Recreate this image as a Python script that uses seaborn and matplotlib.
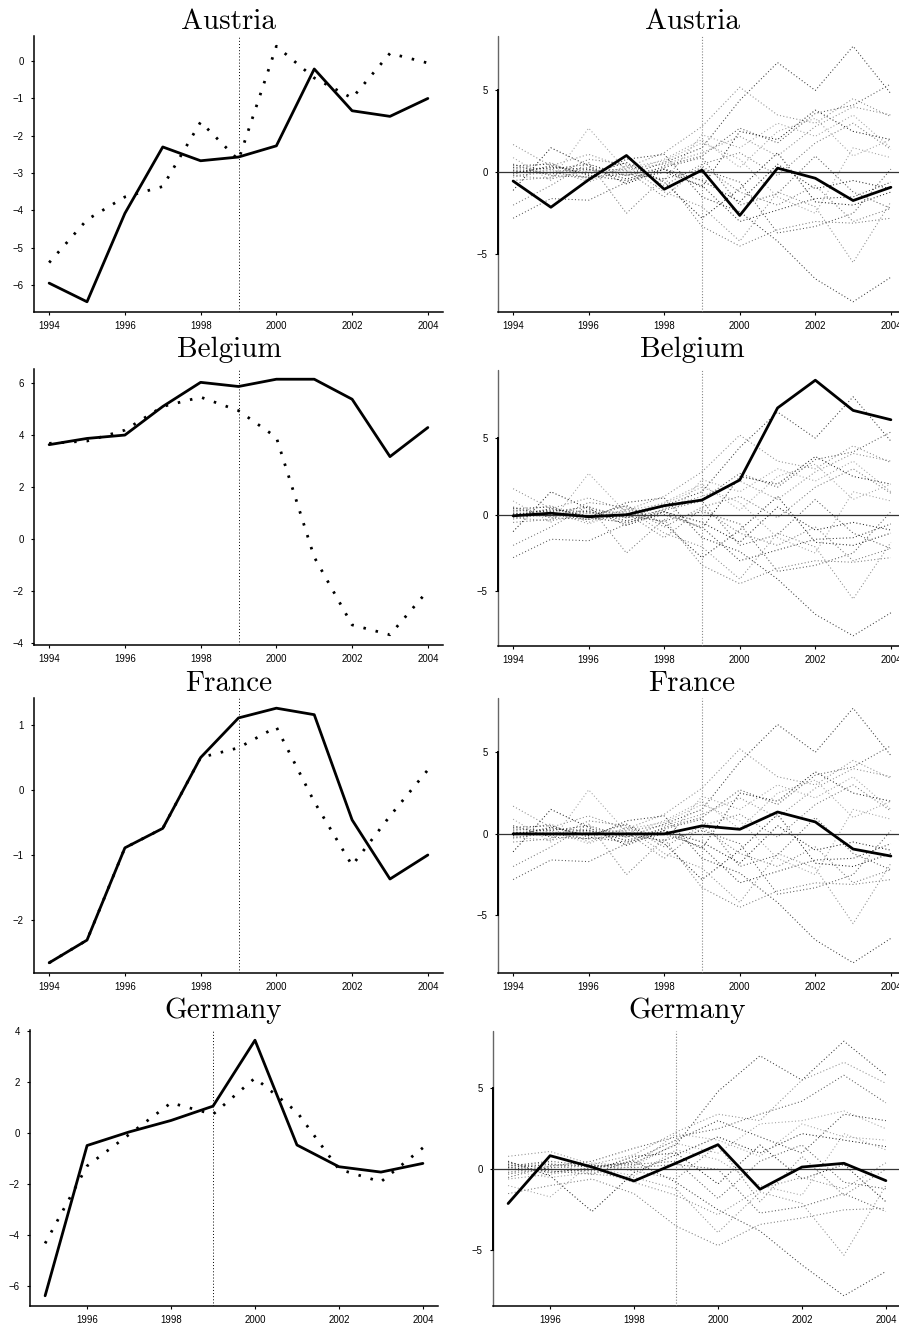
import matplotlib
matplotlib.use("Agg")
import matplotlib.pyplot as plt
import numpy as np
import pandas as pd
import seaborn as sns
from matplotlib.ticker import MultipleLocator

# ---------------- data ----------------
years = [1994, 1995, 1996, 1997, 1998, 1999, 2000, 2001, 2002, 2003, 2004]
years_de = [1995, 1996, 1997, 1998, 1999, 2000, 2001, 2002, 2003, 2004]
treat_year = 1999
countries = ["Austria", "Belgium", "France", "Germany"]

austria_actual = [-5.95, -6.45, -4.08, -2.30, -2.67, -2.57, -2.27, -0.21, -1.33, -1.48, -1.00]
austria_synth = [-5.40, -4.25, -3.64, -3.36, -1.63, -2.65, 0.40, -0.45, -0.99, 0.21, -0.05]
belgium_actual = [3.63, 3.87, 4.00, 5.10, 6.03, 5.87, 6.15, 6.15, 5.38, 3.17, 4.29]
belgium_synth = [3.68, 3.77, 4.19, 5.10, 5.46, 4.94, 3.91, -0.70, -3.31, -3.69, -1.99]
france_actual = [-2.66, -2.31, -0.89, -0.59, 0.50, 1.11, 1.26, 1.16, -0.46, -1.37, -1.00]
france_synth = [-2.66, -2.31, -0.89, -0.59, 0.50, 0.65, 0.97, -0.18, -1.16, -0.40, 0.31]
germany_actual = [-6.38, -0.50, 0.03, 0.48, 1.04, 3.62, -0.48, -1.33, -1.54, -1.20]
germany_synth = [-4.33, -1.30, -0.07, 1.17, 0.72, 2.14, 0.81, -1.43, -1.92, -0.59]

austria_gap = [-0.53, -2.13, -0.45, 1.03, -1.03, 0.14, -2.63, 0.26, -0.36, -1.72, -0.91]
belgium_gap = [-0.07, 0.10, -0.13, 0.00, 0.59, 0.96, 2.27, 6.97, 8.78, 6.81, 6.20]
france_gap = [0.00, 0.00, 0.00, 0.00, 0.00, 0.49, 0.28, 1.34, 0.73, -0.93, -1.36]
germany_gap = [-2.11, 0.84, 0.14, -0.72, 0.38, 1.52, -1.23, 0.14, 0.37, -0.70]

# placebo gaps (other countries), 1994-2004
placebo_gaps_main = [
    [0.3, 0.2, 0.5, -0.2, 0.6, 1.5, 4.4, 6.7, 5.0, 7.7, 4.8],
    [1.7, 0.4, 1.1, 0.3, 1.2, 2.8, 5.2, 3.5, 3.0, 4.5, 3.4],
    [-2.8, -1.6, -1.7, -0.6, 0.4, 1.0, 2.7, 1.8, 3.6, 4.1, 5.4],
    [0.9, -0.5, 2.7, 0.1, -0.5, 2.3, 1.5, 3.0, 2.2, 3.5, 1.5],
    [-1.1, 1.5, 0.4, -0.7, 0.2, -0.9, 2.5, 2.0, 3.8, 2.5, 2.0],
    [-2.0, -0.8, 0.6, -2.5, -0.3, -3.3, -4.5, -3.5, -3.0, -3.1, -2.8],
    [0.5, -0.2, -0.3, 0.8, 1.1, -1.5, -2.4, -4.2, -6.5, -7.9, -6.4],
    [0.2, 0.6, -0.5, 0.4, -1.2, -2.1, -4.2, -1.2, -2.1, -5.5, -1.8],
    [0.1, -0.1, 0.2, -0.2, 0.3, 0.9, -2.0, -1.3, 1.0, -1.2, -2.2],
    [-0.3, 0.2, -0.6, 0.3, 0.7, 1.8, 0.8, -1.5, -2.5, 1.5, 0.9],
    [0.0, 0.3, 0.2, -0.4, 0.2, -0.5, -1.8, 0.5, -1.0, -0.5, -1.0],
    [-0.5, -0.3, 0.8, 0.5, -0.8, 0.5, 1.2, -0.2, 1.8, 3.0, 1.4],
    [0.4, 0.5, -0.2, -0.5, 0.0, -0.8, -3.0, -2.3, -1.6, -1.5, -0.6],
    [-0.2, -0.4, 0.1, 0.2, 0.5, 1.2, 2.2, 1.0, 2.8, 4.0, 3.5],
    [0.1, 0.0, -0.3, -0.1, -0.4, 0.2, -0.6, -3.7, -3.3, -2.5, 0.2],
    [0.2, 0.1, 0.1, 0.0, 0.8, 2.0, 0.3, 2.5, 3.3, 1.0, 2.0],
    [-0.1, 0.4, -0.1, 0.6, -0.6, -2.8, -1.0, 1.2, -1.8, -2.0, -1.2],
    [-0.2, 0.0, 0.3, 0.1, -1.5, 0.4, -1.2, -2.0, -0.8, -3.0, -2.2],
]
# placebo gaps for the Germany panel, 1995-2004
placebo_gaps_de = [
    [0.1, 0.3, 0.2, 0.4, 1.5, 4.8, 7.0, 5.5, 7.9, 5.8],
    [0.8, 1.1, 0.3, 0.9, 2.3, 3.4, 3.0, 5.5, 6.6, 5.3],
    [-0.5, 0.2, 0.5, 1.3, 2.0, 2.5, 3.4, 4.2, 5.8, 4.1],
    [-1.0, -1.7, 0.4, 0.2, 1.6, 1.0, 2.8, 3.0, 3.6, 2.5],
    [0.5, -0.4, -2.6, -0.2, 0.9, 2.0, 1.0, 2.2, 1.8, 1.4],
    [-1.5, -1.0, -0.6, -1.5, -3.5, -4.7, -3.4, -3.0, -2.5, -2.4],
    [0.3, -0.2, 0.1, 0.5, -0.8, -2.5, -3.8, -5.9, -7.8, -6.3],
    [0.2, 0.4, -0.3, -0.5, -1.2, -3.9, -1.4, -2.1, -5.3, -1.0],
    [-0.3, 0.1, 0.2, 0.3, 0.5, -1.8, 0.5, 1.5, -0.8, -1.2],
    [0.0, -0.2, 0.1, -0.4, 1.2, 0.6, -1.0, -1.6, 2.2, 1.2],
    [0.4, 0.0, -0.1, 0.8, 1.0, -0.9, 1.5, -0.6, 0.3, -2.0],
    [-0.2, 0.2, 0.3, -0.1, -0.6, 1.5, -2.0, 0.8, -1.6, 0.0],
    [0.1, -0.1, -0.3, 0.6, 1.8, 3.0, 2.0, 1.0, 3.4, 3.0],
    [-0.6, -0.3, 0.0, -0.8, -1.6, -2.8, -1.2, -0.5, -1.2, 0.4],
    [0.2, 0.5, 0.2, 0.1, 0.3, 0.0, -2.7, -2.3, -1.5, -2.6],
    [-0.1, -0.5, -0.2, 0.2, 2.2, 1.8, 0.8, 2.8, 2.0, 1.8],
]

left_yticks = [1, 2, 1, 2]
xtick_start = [1994, 1994, 1994, 1996]

# ---------------- layout (pixels) ----------------
W, H = 899, 1326
left_boxes = [(34, 443, 36, 312), (34, 443, 369, 645), (34, 443, 698, 973), (30, 438, 1030, 1306)]
right_boxes = [(498, 906, 36, 312), (498, 906, 370, 646), (498, 906, 698, 973), (493, 901, 1031, 1306)]
title_left = [(229, 29.3), (229, 357.3), (229, 690.7), (223.5, 1018.3)]
title_right = [(692, 29.3), (692, 357.3), (692, 690.7), (687, 1018.3)]

sns.set_style("ticks")
plt.rcParams["font.family"] = ["Liberation Sans", "DejaVu Sans"]

fig = plt.figure(figsize=(W / 100, H / 100), dpi=100)


def make_ax(box):
    x0, x1, top, bot = box
    return fig.add_axes([x0 / W, 1 - bot / H, (x1 - x0) / W, (bot - top) / H])


def padded(vals):
    lo, hi = float(np.min(vals)), float(np.max(vals))
    r = hi - lo
    return lo - 0.04 * r, hi + 0.04 * r


def style_ax(ax, xs, ystep, xstart):
    for s in ["top", "right"]:
        ax.spines[s].set_visible(False)
    for s in ["left", "bottom"]:
        ax.spines[s].set_color("black")
        ax.spines[s].set_linewidth(1.1)
    ax.set_xticks([t for t in range(xstart, max(xs) + 1, 2)])
    ax.yaxis.set_major_locator(MultipleLocator(ystep))
    ax.tick_params(axis="both", direction="out", length=2.4, width=0.8,
                   colors="black", labelsize=6.9, pad=5)
    ax.tick_params(axis="x", pad=4)
    ax.set_xlabel("")
    ax.set_ylabel("")
    ax.grid(False)
    ax.set_facecolor("white")


actual_list = [austria_actual, belgium_actual, france_actual, germany_actual]
synth_list = [austria_synth, belgium_synth, france_synth, germany_synth]
gap_list = [austria_gap, belgium_gap, france_gap, germany_gap]

gray_cycle = ["#3a3a3a", "#8a8a8a", "#555555", "#a0a0a0", "#202020", "#777777"]

for i, name in enumerate(countries):
    xs = years_de if name == "Germany" else years
    placebos = placebo_gaps_de if name == "Germany" else placebo_gaps_main
    xlo, xhi = padded(xs)

    # ---- left panel: actual vs synthetic ----
    ax = make_ax(left_boxes[i])
    act, syn = actual_list[i], synth_list[i]
    ax.axvline(treat_year, color="black", lw=0.7, linestyle=(0, (1, 2.2)), zorder=1)
    sns.lineplot(x=xs, y=syn, ax=ax, color="black", lw=2.0,
                 linestyle=(0, (0.9, 3.6)), dash_capstyle="butt", zorder=3)
    sns.lineplot(x=xs, y=act, ax=ax, color="black", lw=2.0,
                 solid_joinstyle="round", solid_capstyle="round", zorder=4)
    ax.set_xlim(xlo, xhi)
    ax.set_ylim(*padded(act + syn))
    style_ax(ax, xs, left_yticks[i], xtick_start[i])

    # ---- right panel: gaps with placebos ----
    ax2 = make_ax(right_boxes[i])
    rows = []
    for k, series in enumerate(placebos):
        for yr, v in zip(xs, series):
            rows.append({"year": yr, "gap": v, "unit": k})
    df = pd.DataFrame(rows)
    pal = [gray_cycle[k % len(gray_cycle)] for k in range(len(placebos))]
    sns.lineplot(data=df, x="year", y="gap", hue="unit", palette=pal,
                 estimator=None, errorbar=None, legend=False, ax=ax2,
                 lw=0.75, linestyle=(0, (1, 2.2)), zorder=2)
    ax2.axhline(0, color="#333333", lw=0.9, zorder=3)
    ax2.axvline(treat_year, color="#888888", lw=0.8, linestyle=(0, (1, 1.6)), zorder=3)
    sns.lineplot(x=xs, y=gap_list[i], ax=ax2, color="black", lw=2.0,
                 solid_joinstyle="round", solid_capstyle="round", zorder=5)
    allv = [v for s in placebos for v in s] + list(gap_list[i])
    ax2.set_xlim(xlo, xhi)
    ax2.set_ylim(*padded(allv))
    style_ax(ax2, xs, 5, xtick_start[i])
    ax2.spines["left"].set_bounds(-5, 5)
    ax2.spines["left"].set_linewidth(1.4)
    ax2.axvline(xlo, color="#666666", lw=1.0, zorder=0, clip_on=False)

    # titles
    for (cx, by) in [title_left[i], title_right[i]]:
        fig.text(cx / W, 1 - by / H, name, ha="center", va="baseline",
                 fontfamily="cmr10", fontsize=21, color="black")

fig.savefig("out.png", dpi=100, facecolor="white")
